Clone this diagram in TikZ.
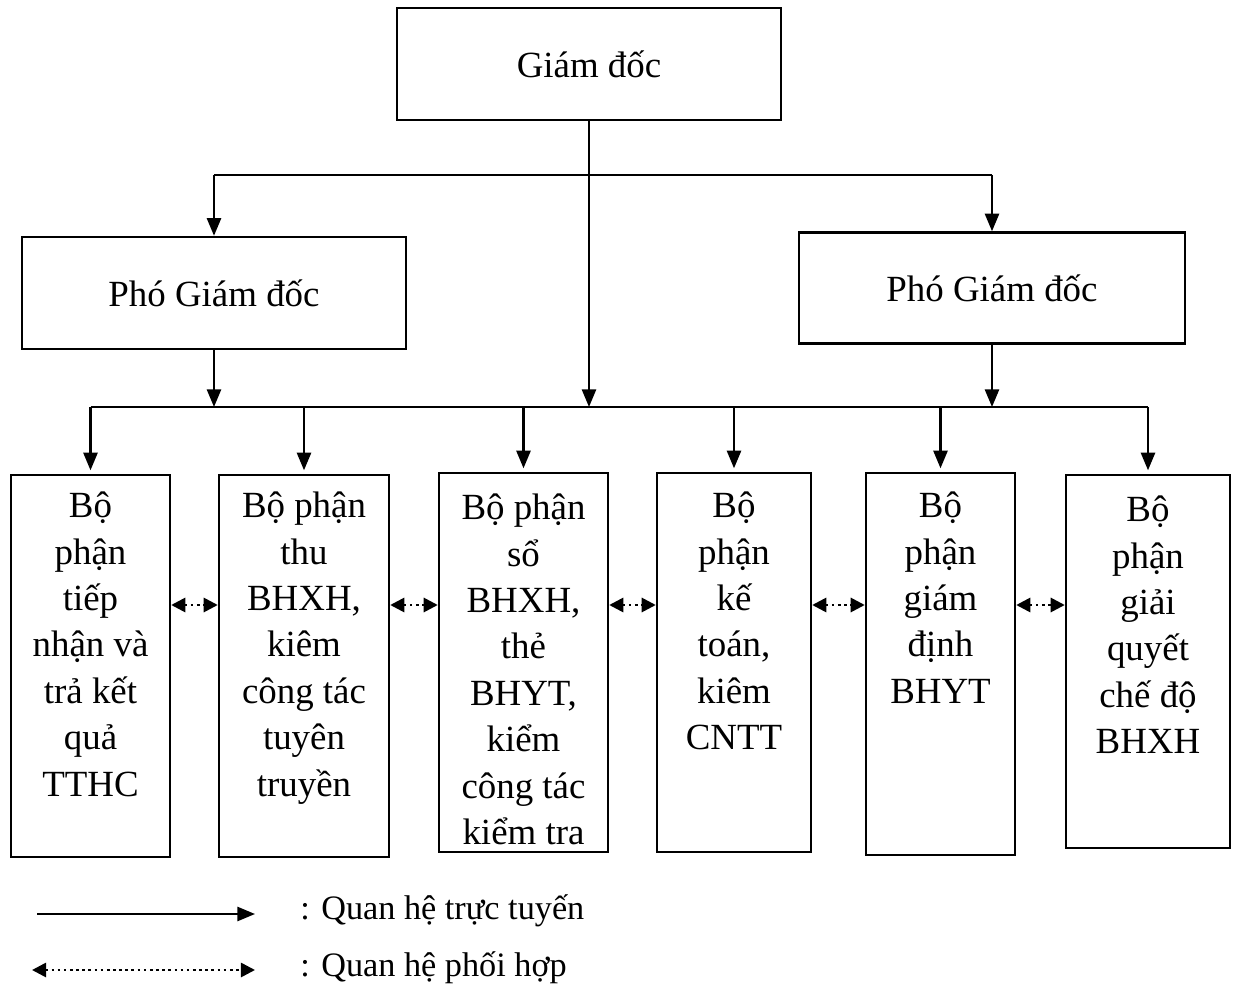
\documentclass[tikz,border=0pt]{standalone}
\usepackage{fontspec}
\setmainfont{Liberation Serif}
\usetikzlibrary{arrows.meta,positioning}

\tikzset{
  box/.style={draw, line width=1.4pt, inner sep=0pt, font=\fontsize{21}{26.4}\selectfont},
  txt/.style={align=center, inner sep=0pt, font=\fontsize{21}{26.4}\selectfont},
  bus/.style={line width=0.9pt},
  down/.style={line width=1.3pt, -{Triangle[length=10pt,width=8pt]}},
  coop/.style={line width=1.5pt, dotted, {Triangle[length=8pt,width=8pt]}-{Triangle[length=8pt,width=8pt]}},
  legend/.style={anchor=west, inner sep=0pt, font=\fontsize{19.5}{24}\selectfont},
}

\begin{document}
\begin{tikzpicture}[x=0.02cm, y=-0.02cm]
\useasboundingbox (0,0) rectangle (1237,989);

% lanh dao
\node[box, minimum width=7.68cm, minimum height=2.24cm] (gd) at (589,64) {Giám đốc};
\node[box, minimum width=7.68cm, minimum height=2.24cm] (pgd1) at (214,293) {Phó Giám đốc};
\node[box, minimum width=7.72cm, minimum height=2.22cm] (pgd2) at (992,288) {Phó Giám đốc};

\coordinate (topbus) at (0,175);
\coordinate (lowbus) at (0,407);
\coordinate (mid) at (0,605);

% cac bo phan
\node[box, minimum width=3.18cm, minimum height=7.64cm] (b1) at (90.5,666) {};
\node[box, minimum width=3.40cm, minimum height=7.64cm] (b2) at (304,666) {};
\node[box, minimum width=3.38cm, minimum height=7.58cm] (b3) at (523.5,662.5) {};
\node[box, minimum width=3.08cm, minimum height=7.58cm] (b4) at (734,662.5) {};
\node[box, minimum width=2.98cm, minimum height=7.64cm] (b5) at (940.5,664) {};
\node[box, minimum width=3.28cm, minimum height=7.46cm] (b6) at (1148,661.5) {};

\node[txt, below=0.36cm of b1.north] (t1) {Bộ\\phận\\tiếp\\nhận và\\trả kết\\quả\\TTHC};
\node[txt, below=0.36cm of b2.north] (t2) {Bộ phận\\thu\\BHXH,\\kiêm\\công tác\\tuyên\\truyền};
\begin{scope}
\clip (b3.south west) rectangle (b3.north east);
\node[txt, below=0.44cm of b3.north] (t3) {Bộ phận\\sổ\\BHXH,\\thẻ\\BHYT,\\kiểm\\công tác\\kiểm tra};
\end{scope}
\node[txt, below=0.40cm of b4.north] (t4) {Bộ\\phận\\kế\\toán,\\kiêm\\CNTT};
\node[txt, below=0.40cm of b5.north] (t5) {Bộ\\phận\\giám\\định\\BHYT};
\node[txt, below=0.44cm of b6.north] (t6) {Bộ\\phận\\giải\\quyết\\chế độ\\BHXH};

% quan he truc tuyen
\draw[bus] (pgd1.north |- topbus) -- (pgd2.north |- topbus);
\draw[down] (pgd1.north |- topbus) -- (pgd1.north);
\draw[down] (pgd2.north |- topbus) -- (pgd2.north);
\draw[down] (gd.south) -- (gd.south |- lowbus);
\draw[down] (pgd1.south) -- (pgd1.south |- lowbus);
\draw[down] (pgd2.south) -- (pgd2.south |- lowbus);
\draw[bus] (b1.north |- lowbus) -- (b6.north |- lowbus);
\foreach \i in {1,...,6}
  \draw[down, shorten >=2pt] (b\i.north |- lowbus) -- (b\i.north);

% quan he phoi hop
\foreach \i/\j in {1/2,2/3,3/4,4/5,5/6}
  \draw[coop] (b\i.east |- mid) -- (b\j.west |- mid);

% chu thich
\coordinate (la1) at (37,914);
\coordinate (lb1) at (255,914);
\coordinate (la2) at (32,970);
\coordinate (lb2) at (255,970);
\draw[down] (la1) -- (lb1);
\draw[coop] (la2) -- (lb2);
\node[legend] (leg1) at (300,911) {: Quan hệ trực tuyến};
\node[legend] (leg2) at (300,968) {: Quan hệ phối hợp};
\end{tikzpicture}
\end{document}
